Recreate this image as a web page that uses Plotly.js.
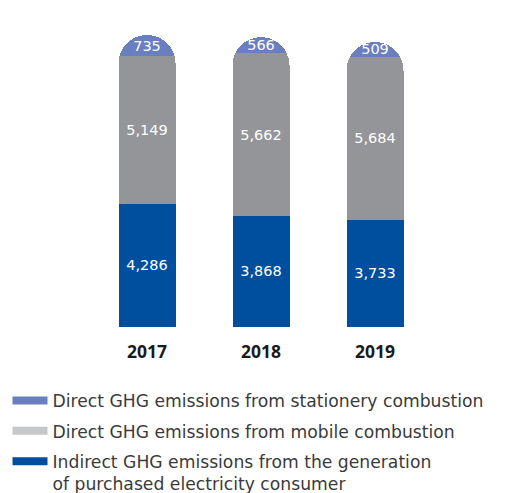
<!DOCTYPE html>
<html>
<head>
<meta charset="utf-8">
<script src="https://cdn.plot.ly/plotly-3.0.1.min.js"></script>
<style>
html,body{margin:0;padding:0;background:#fff;}
#chart{width:514px;height:493px;}
</style>
</head>
<body>
<div id="chart"></div>
<script>
const years = ['2017', '2018', '2019'];
const indirectElectricity = [4286, 3868, 3733];
const directMobile = [5149, 5662, 5684];
const directStationary = [735, 566, 509];
const seriesNames = [
  'Indirect GHG emissions from the generation<br>of purchased electricity consumer',
  'Direct GHG emissions from mobile combustion',
  'Direct GHG emissions from stationery combustion'
];
const barColors = ['#004f9e', '#939598', '#6a7fc0'];
const legendColors = ['#004f9e', '#c6c7c9', '#6a7fc0'];
const seriesValues = [indirectElectricity, directMobile, directStationary];

const traces = [];
seriesValues.forEach((vals, i) => {
  traces.push({
    type: 'bar', x: years, y: vals, name: seriesNames[i],
    marker: {color: barColors[i], line: {width: 0}},
    texttemplate: '%{y:,}', textposition: 'inside', insidetextanchor: 'middle',
    textangle: 0, constraintext: 'none',
    textfont: {family: 'DejaVu Sans', size: 14.5, color: '#ffffff'},
    showlegend: false, hoverinfo: 'skip'
  });
});
[2, 1, 0].forEach((i, k) => {
  traces.push({
    type: 'scatter', mode: 'lines', x: [years[0]], y: [0], name: seriesNames[i],
    line: {color: legendColors[i], width: 8}, legendgroup: 'g' + i, legendrank: k + 1,
    showlegend: true, hoverinfo: 'skip'
  });
});

const layout = {
  width: 514, height: 493,
  margin: {l: 90, r: 82, t: 7, b: 166, autoexpand: false},
  paper_bgcolor: '#fff', plot_bgcolor: '#fff',
  barmode: 'stack', bargap: 0.5, barcornerradius: 28,
  uniformtext: {mode: 'show', minsize: 14.5},
  showlegend: true,
  xaxis: {type: 'category', showgrid: false, zeroline: false, showline: false, ticks: '',
    ticklabelstandoff: 12,
    tickfont: {family: 'Open Sans', size: 17.5, color: '#1a1a1a', weight: 'bold'}},
  yaxis: {range: [0, 11150], visible: false, showgrid: false, zeroline: false},
  legend: {xref: 'container', yref: 'container', x: 0.0146, y: 0.2235, xanchor: 'left', yanchor: 'top',
    orientation: 'v', traceorder: 'grouped', tracegroupgap: 5, valign: 'top',
    itemwidth: 35,
    font: {family: 'DejaVu Sans', size: 17.2, color: '#3a3a3a'}, bgcolor: 'rgba(0,0,0,0)'},
  font: {family: 'Open Sans'}
};
Plotly.newPlot('chart', traces, layout, {displayModeBar: false, staticPlot: true});
</script>
</body>
</html>
